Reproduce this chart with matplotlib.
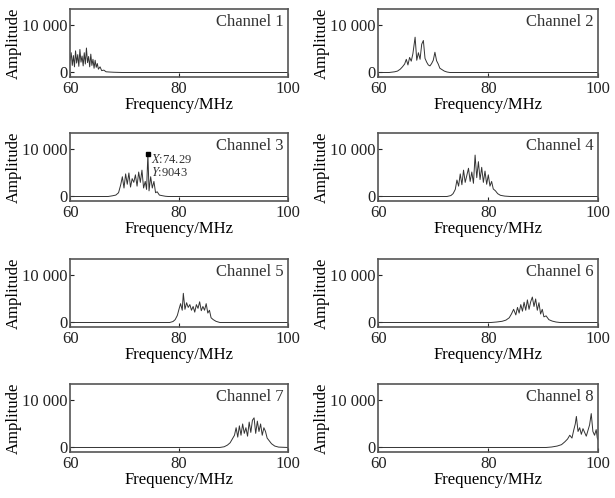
import matplotlib
matplotlib.use('Agg')
import matplotlib.pyplot as plt
from matplotlib.ticker import FuncFormatter

plt.rcParams['font.family'] = ['Liberation Serif', 'DejaVu Serif']
plt.rcParams['mathtext.fontset'] = 'stix'

# spectra (frequency MHz, amplitude)
ch1_f = [60.0, 60.2, 60.4, 60.6, 60.8, 61.0, 61.2, 61.4, 61.6, 61.8, 62.0, 62.2, 62.4, 62.6, 62.8,
         63.0, 63.2, 63.4, 63.6, 63.8, 64.0, 64.2, 64.4, 64.6, 64.8, 65.0, 65.2, 65.5, 65.8, 66.2,
         66.6, 67.2, 68.0, 69.5, 100.0]
ch1_a = [2600, 4200, 1500, 3600, 1200, 4600, 2000, 3800, 1300, 4900, 2200, 3500, 1400, 4200, 1800,
         5200, 2100, 3400, 1200, 3900, 1500, 2800, 900, 2600, 1100, 1900, 700, 1200, 400, 500,
         150, 100, 50, 0, 0]

ch2_f = [60.0, 62.0, 63.0, 63.5, 64.0, 64.4, 64.8, 65.1, 65.4, 65.7, 66.0, 66.3, 66.7, 67.0, 67.3,
         67.6, 67.9, 68.2, 68.5, 68.8, 69.1, 69.4, 69.7, 70.0, 70.3, 70.6, 70.9, 71.2, 71.6, 72.0,
         72.5, 73.0, 100.0]
ch2_a = [0, 0, 150, 300, 700, 1200, 1800, 2800, 1600, 3200, 2400, 4000, 7500, 2600, 4200,
         2800, 6000, 6800, 3000, 2200, 1600, 1400, 1900, 2600, 4300, 2500, 1800, 900, 600, 300,
         100, 0, 0]

ch3_f = [60.0, 67.0, 67.8, 68.4, 68.9, 69.3, 69.6, 69.9, 70.2, 70.5, 70.8, 71.1, 71.4, 71.7, 72.0,
         72.3, 72.6, 72.9, 73.2, 73.5, 73.8, 74.05, 74.29, 74.5, 74.8, 75.1, 75.4, 75.7, 76.0, 76.4,
         76.8, 77.5, 78.0, 100.0]
ch3_a = [0, 0, 150, 300, 800, 2500, 4200, 1800, 4800, 2600, 5000, 2000, 3800, 3000, 4600,
         2200, 5200, 3000, 5600, 1800, 3200, 1500, 9043, 1200, 4200, 1800, 3200, 800, 1000, 300,
         200, 50, 0, 0]

ch4_f = [60.0, 72.5, 73.2, 73.6, 74.0, 74.3, 74.6, 74.9, 75.2, 75.5, 75.8, 76.1, 76.4, 76.7, 77.0,
         77.3, 77.6, 77.9, 78.2, 78.5, 78.8, 79.1, 79.4, 79.7, 80.0, 80.3, 80.6, 80.9, 81.3, 81.7,
         82.2, 83.0, 84.0, 100.0]
ch4_a = [0, 0, 200, 600, 1500, 3500, 2200, 4800, 2500, 5600, 3000, 4500, 6000, 3200, 5200,
         2800, 8800, 4000, 7400, 3600, 6200, 3000, 5400, 2600, 4600, 2200, 3200, 1600, 1200, 600,
         250, 80, 0, 0]

ch5_f = [60.0, 78.3, 78.9, 79.3, 79.7, 80.0, 80.3, 80.6, 80.8, 81.1, 81.4, 81.7, 82.0, 82.3, 82.6,
         82.9, 83.2, 83.5, 83.8, 84.1, 84.4, 84.7, 85.0, 85.3, 85.6, 85.9, 86.3, 86.8, 87.5, 100.0]
ch5_a = [0, 0, 200, 600, 1500, 2800, 4000, 2600, 6200, 2800, 4200, 3200, 3800, 2600, 3400,
         2200, 3800, 3000, 4400, 2500, 3400, 2600, 4000, 2000, 2600, 1000, 600, 250, 0, 0]

ch6_f = [60.0, 80.5, 81.5, 82.5, 83.2, 83.8, 84.2, 84.6, 85.0, 85.3, 85.6, 85.9, 86.2, 86.5, 86.8,
         87.1, 87.4, 87.7, 88.0, 88.3, 88.6, 88.9, 89.2, 89.5, 89.8, 90.1, 90.5, 91.0, 91.6, 92.3,
         93.0, 100.0]
ch6_a = [0, 0, 100, 250, 500, 1000, 1800, 2800, 1600, 3200, 2000, 3800, 2400, 4300, 2600,
         4800, 2800, 4400, 5400, 3400, 5000, 2600, 4200, 1800, 2800, 1200, 1400, 600, 300, 100,
         0, 0]

ch7_f = [60.0, 87.5, 88.3, 88.9, 89.4, 89.8, 90.2, 90.5, 90.8, 91.1, 91.4, 91.7, 92.0, 92.3, 92.6,
         92.9, 93.2, 93.5, 93.8, 94.1, 94.4, 94.7, 95.0, 95.3, 95.6, 95.9, 96.2, 96.6, 97.0, 97.6,
         98.3, 100.0]
ch7_a = [0, 0, 150, 500, 1000, 1800, 2600, 4200, 2200, 4600, 2600, 5000, 3000, 4200, 2400,
         5400, 3200, 5800, 6300, 3000, 5600, 3400, 5000, 2600, 4200, 3400, 2000, 1400, 800, 300,
         80, 0]

ch8_f = [60.0, 90.5, 91.5, 92.5, 93.3, 93.9, 94.4, 94.8, 95.2, 95.5, 95.8, 96.0, 96.3, 96.6, 96.9,
         97.2, 97.5, 97.8, 98.1, 98.4, 98.7, 99.0, 99.3, 99.6, 99.8, 100.0]
ch8_a = [0, 0, 100, 300, 600, 1200, 1800, 2600, 2000, 3600, 5000, 6600, 3400, 4200, 2800,
         4000, 3200, 2400, 3600, 4800, 7200, 3400, 2600, 3800, 2000, 1500]

channels = [(ch1_f, ch1_a), (ch2_f, ch2_a), (ch3_f, ch3_a), (ch4_f, ch4_a),
            (ch5_f, ch5_a), (ch6_f, ch6_a), (ch7_f, ch7_a), (ch8_f, ch8_a)]

peak_x, peak_y = 74.29, 9043

x_ticks = [60, 80, 100]
y_ticks = [0, 10000]

fig = plt.figure(figsize=(6.15, 4.98), dpi=100)

lefts = [0.114, 0.615]
widths = [0.354, 0.358]
bottoms = [0.845, 0.596, 0.343, 0.092]
height = 0.137

fmt = FuncFormatter(lambda v, p: '0' if v == 0 else f'{int(v):,}'.replace(',', ' '))

for i, (f, a) in enumerate(channels):
    row, col = divmod(i, 2)
    ax = fig.add_axes([lefts[col], bottoms[row], widths[col], height])
    ax.plot(f, a, color='#333333', lw=0.7)
    ax.set_xlim(60, 100)
    ax.set_ylim(-1000, 13500)
    ax.set_xticks(x_ticks)
    ax.set_yticks(y_ticks)
    ax.yaxis.set_major_formatter(fmt)
    ax.tick_params(direction='in', length=3, labelsize=12, colors='#222222')
    ax.tick_params(axis='x', pad=3)
    ax.tick_params(axis='y', pad=2)
    for s in ax.spines.values():
        s.set_color('#555555')
        s.set_linewidth(1.2)
    ax.set_xlabel('Frequency/MHz', fontsize=12, labelpad=0)
    ax.set_ylabel('Amplitude', fontsize=12, labelpad=0)
    ax.text(0.98, 0.93, f'Channel {i + 1}', transform=ax.transAxes,
            ha='right', va='top', fontsize=12, color='#333333')
    if i == 2:
        ax.plot([peak_x], [peak_y], marker='s', ms=3, color='black')
        ax.text(peak_x + 0.6, peak_y + 300, f'$X$:{peak_x}\n$Y$:{peak_y}',
                fontsize=9, va='top', ha='left', linespacing=1.0, color='#333333')

fig.savefig('out.png', dpi=100)
